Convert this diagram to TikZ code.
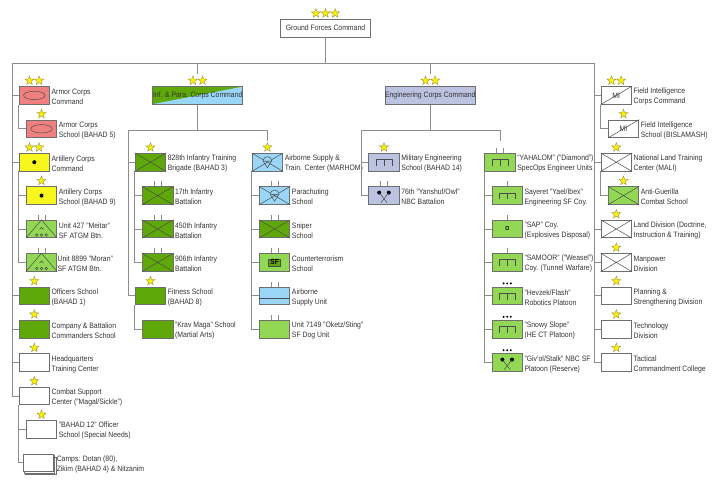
\documentclass[tikz,border=0pt]{standalone}
\usepackage{fontspec}
\setmainfont[FakeStretch=0.88]{Liberation Sans}
\usepackage{xcolor}
\usetikzlibrary{shapes.geometric}
\definecolor{linegray}{HTML}{8C8C8C}
\definecolor{boxgray}{HTML}{6E6E6E}
\definecolor{salmonfill}{HTML}{F08080}
\definecolor{yellowfill}{HTML}{F7F71E}
\definecolor{darkgreen}{HTML}{5FA80A}
\definecolor{lightgreen}{HTML}{92D855}
\definecolor{skyfill}{HTML}{99D6F7}
\definecolor{periwinkle}{HTML}{BCC3E0}
\tikzset{
 unitbox/.style={draw=boxgray, line width=.8pt, minimum width=30.5pt, minimum height=17.6pt, inner sep=0},
 widebox/.style={unitbox, minimum width=90.3pt, text=black!80, font=\fontsize{7.8}{10}\selectfont},
 lbl/.style={anchor=west, align=left, inner sep=1.5pt, yshift=-1.5pt, text=black!80, font=\fontsize{7.8}{10}\selectfont},
 rank/.style={star, star points=5, star point ratio=2.4, fill=yellow, draw=black!45!yellow, line width=.4pt, minimum size=9.5pt, inner sep=0},
 conn/.style={draw=linegray, line width=.9pt},
 sym/.style={draw=black!70, line width=.5pt},
 tick/.style={draw=linegray, line width=.7pt},
}
\newcommand{\unitnode}[5][]{
 \node[unitbox,#1] (#2) at (#3,#4) {};
 \node[lbl] (#2l) at (#2.east) {#5};
}

\begin{document}
\begin{tikzpicture}[x=1pt,y=-1pt]
\useasboundingbox (0,0) rectangle (720,493);
\coordinate (busL) at (12,63);
\coordinate (busR) at (594,63);
\coordinate (infbus) at (128.5,130);
\coordinate (engbus) at (361,130);

\node[widebox] (gfc) at (325.5,28.2) {Ground Forces Command};
\node[widebox,path picture={
 \fill[skyfill] (path picture bounding box.south west) -- (path picture bounding box.north east) -- (path picture bounding box.south east) -- cycle;
},fill=darkgreen] (infc) at (197.7,95.4) {Inf. \& Para. Corps Command};
\node[widebox,fill=periwinkle] (engc) at (430.3,95.4) {Engineering Corps Command};

% left column
\unitnode[fill=salmonfill]{armc}{34.3}{95.4}{Armor Corps\\Command}
\unitnode[fill=salmonfill]{arms}{41.5}{128.8}{Armor Corps\\School (BAHAD 5)}
\unitnode[fill=yellowfill]{artc}{34.3}{162.2}{Artillery Corps\\Command}
\unitnode[fill=yellowfill]{arts}{41.5}{195.6}{Artillery Corps\\School (BAHAD 9)}
\unitnode[fill=lightgreen]{mei}{41.5}{229}{Unit 427 "Meitar"\\SF ATGM Btn.}
\node[unitbox,fill=lightgreen] (mor) at (41.5,262.4) {};
\node[lbl,xshift=-1.3pt] (morl) at (mor.east) {Unit 8899 "Moran"\\SF ATGM Btn.};
\unitnode[fill=darkgreen]{off}{34.3}{295.8}{Officers School\\(BAHAD 1)}
\unitnode[fill=darkgreen]{com}{34.3}{329.2}{Company \& Battalion\\Commanders School}
\unitnode{hqt}{34.3}{362.6}{Headquarters\\Training Center}
\unitnode{cbt}{34.3}{396}{Combat Support\\Center ("Magal/Sickle")}
\unitnode{b12}{41.5}{429.4}{"BAHAD 12" Officer\\School (Special Needs)}
\node[unitbox,fill=white] (camc) at (41,465.8) {};
\node[unitbox,fill=white] (camb) at (39.6,464.3) {};
\node[unitbox,fill=white] (cama) at (38.2,462.8) {};
\node[lbl,xshift=1.2pt] (camal) at (cama.east) {Camps: Dotan (80),\\Zikim (BAHAD 4) \& Nitzanim};

% infantry
\unitnode[fill=darkgreen]{tr828}{150.5}{162.2}{828th Infantry Training\\Brigade (BAHAD 3)}
\unitnode[fill=darkgreen]{bn17}{157.7}{195.6}{17th Infantry\\Battalion}
\unitnode[fill=darkgreen]{bn450}{157.7}{229}{450th Infantry\\Battalion}
\unitnode[fill=darkgreen]{bn906}{157.7}{262.4}{906th Infantry\\Battalion}
\unitnode[fill=darkgreen]{fit}{150.5}{295.8}{Fitness School\\(BAHAD 8)}
\unitnode[fill=darkgreen]{krav}{157.7}{329.2}{"Krav Maga" School\\(Martial Arts)}
\unitnode[fill=skyfill]{air}{267.4}{162.2}{Airborne Supply \&\\Train. Center (MARHOM)}
\unitnode[fill=skyfill]{par}{274.6}{195.6}{Parachuting\\School}
\unitnode[fill=darkgreen]{sni}{274.6}{229}{Sniper\\School}
\unitnode[fill=lightgreen]{ctr}{274.6}{262.4}{Counterterrorism\\School}
\unitnode[fill=skyfill]{sup}{274.6}{295.8}{Airborne\\Supply Unit}
\unitnode[fill=lightgreen]{dog}{274.6}{329.2}{Unit 7149 "Oketz/Sting"\\SF Dog Unit}

% engineering
\unitnode[fill=periwinkle]{meng}{384}{162.2}{Military Engineering\\School (BAHAD 14)}
\unitnode[fill=periwinkle]{owl}{384}{195.6}{76th "Yanshuf/Owl"\\NBC Battalion}
\unitnode[fill=lightgreen]{yah}{500}{162.2}{"YAHALOM" ("Diamond")\\SpecOps Engineer Units}
\unitnode[fill=lightgreen]{yael}{507.2}{195.6}{Sayeret "Yael/Ibex"\\Engineering SF Coy.}
\unitnode[fill=lightgreen]{sap}{507.2}{229}{"SAP" Coy.\\(Explosives Disposal)}
\unitnode[fill=lightgreen]{sam}{507.2}{262.4}{"SAMOOR" ("Weasel")\\Coy. (Tunnel Warfare)}
\unitnode[fill=lightgreen]{hev}{507.2}{295.8}{"Hevzek/Flash"\\Robotics Platoon}
\unitnode[fill=lightgreen]{sno}{507.2}{329.2}{"Snowy Slope"\\(HE CT Platoon)}
\unitnode[fill=lightgreen]{giv}{507.2}{362.6}{"Giv'ol/Stalk" NBC SF\\Platoon (Reserve)}

% right column
\unitnode{fic}{616.3}{95.4}{Field Intelligence\\Corps Command}
\unitnode{fis}{623.5}{128.8}{Field Intelligence\\School (BISLAMASH)}
\unitnode{mal}{616.3}{162.2}{National Land Training\\Center (MALI)}
\unitnode[fill=lightgreen]{gue}{623.5}{195.6}{Anti-Guerilla\\Combat School}
\unitnode{lan}{616.3}{229}{Land Division (Doctrine,\\Instruction \& Training)}
\unitnode{man}{616.3}{262.4}{Manpower\\Division}
\unitnode{pla}{616.3}{295.8}{Planning \&\\Strengthening Division}
\unitnode{tec}{616.3}{329.2}{Technology\\Division}
\unitnode{tac}{616.3}{362.6}{Tactical\\Commandment College}

\draw[conn] (gfc.south) -- (gfc.south |- busL);
\draw[conn] (busL) -- (busR);
\draw[conn] (infc.north |- busL) -- ([yshift=12.3pt]infc.north);
\draw[conn] (engc.north |- busL) -- ([yshift=12.3pt]engc.north);
\draw[conn] (busL) |- (cbt.west);
\draw[conn] (busR) |- (tac.west);
\foreach \n in {armc,artc,off,com,hqt} {
 \draw[conn] (\n.west) -- (\n.west -| busL);
}
\foreach \n in {fic,mal,lan,man,pla,tec} {
 \draw[conn] (\n.west) -- (\n.west -| busR);
}
\draw[conn] (armc.south west) |- (arms.west);
\draw[conn] (artc.south west) |- (mor.west);
\draw[conn] (arts.west) -- (arts.west -| artc.south west);
\draw[conn] (mei.west) -- (mei.west -| artc.south west);
\draw[conn] (cbt.south west) |- (cama.west);
\draw[conn] (b12.west) -- (b12.west -| cbt.south west);

\draw[conn] (infc.south) -- (infc.south |- infbus);
\draw[conn] (infbus) -- (air.north |- infbus) -- ([yshift=11.6pt]air.north);
\draw[conn] (infbus) |- (fit.west);
\draw[conn] (tr828.west) -- (tr828.west -| infbus);
\draw[conn] (tr828.south west) |- (bn906.west);
\foreach \n in {bn17,bn450} {
 \draw[conn] (\n.west) -- (\n.west -| tr828.south west);
}
\draw[conn] (fit.south west) |- (krav.west);
\draw[conn] (air.south west) |- (dog.west);
\foreach \n in {par,sni,ctr,sup} {
 \draw[conn] (\n.west) -- (\n.west -| air.south west);
}

\draw[conn] (engc.south) -- (engc.south |- engbus);
\draw[conn] (engbus) -- (yah.north |- engbus) -- ([yshift=11.6pt]yah.north);
\draw[conn] (engbus) |- (owl.west);
\draw[conn] (meng.west) -- (meng.west -| engbus);
\draw[conn] (yah.south west) |- (giv.west);
\foreach \n in {yael,sap,sam,hev,sno} {
 \draw[conn] (\n.west) -- (\n.west -| yah.south west);
}

\draw[conn] (fic.south west) |- (fis.west);
\draw[conn] (mal.south west) |- (gue.west);

% ranks
\foreach \n in {gfc} {
 \node[rank] (\n s1) at ([xshift=-9.6pt,yshift=5.6pt]\n.north) {};
 \node[rank] (\n s2) at ([yshift=5.6pt]\n.north) {};
 \node[rank] (\n s3) at ([xshift=9.6pt,yshift=5.6pt]\n.north) {};
}
\foreach \n in {armc,artc,infc,engc,fic} {
 \node[rank] (\n s1) at ([xshift=-4.8pt,yshift=5.6pt]\n.north) {};
 \node[rank] (\n s2) at ([xshift=4.8pt,yshift=5.6pt]\n.north) {};
}
\foreach \n in {arms,arts,off,com,hqt,cbt,b12,tr828,fit,air,meng,fis,mal,gue,lan,man,pla,tec,tac} {
 \node[rank] (\n s1) at ([yshift=5.6pt]\n.north) {};
}

% ticks above the box
\foreach \n in {mei,mor,bn17,bn450,bn906,par,sni,ctr,sup,dog,owl,yah} {
 \draw[tick] ([xshift=-3.4pt]\n.north) -- ++(0,-5);
 \draw[tick] ([xshift=3.4pt]\n.north) -- ++(0,-5);
}
\foreach \n in {yael,sap,sam} {
 \draw[tick] (\n.north) -- ++(0,-5);
}
\foreach \n in {hev,sno,giv} {
 \foreach \d in {-3.6,0,3.6} {
  \fill[black] ([xshift=\d pt,yshift=3.2pt]\n.north) circle (1.1pt);
 }
}

% symbols
\foreach \n in {tr828,bn17,bn450,bn906,sni,air,par,mal,gue,lan,man} {
 \draw[sym] (\n.south west) -- (\n.north east) (\n.north west) -- (\n.south east);
}
\foreach \n in {armc,arms} {
 \draw[sym] (\n.center) ellipse (10.8pt and 4.2pt);
}
\foreach \n in {artc,arts} {
 \fill[black] (\n.center) circle (2pt);
}
\foreach \n in {mei,mor} {
 \draw[sym] (\n.south west) -- (\n.north) -- (\n.south east);
 \draw[sym] ([shift={(-2,0.5)}]\n.center) -- ([shift={(0,-1.5)}]\n.center) -- ([shift={(2,0.5)}]\n.center);
 \foreach \d in {-4.7,0,4.7} {
  \draw[sym] ([shift={(\d,6)}]\n.center) circle (1.3pt);
 }
}
\foreach \n in {air,par} {
 \draw[sym,fill=skyfill] ([shift={(-4.4,-1.2)}]\n.center) arc[start angle=180,end angle=0,radius=4.4pt] -- cycle;
 \draw[sym] ([shift={(-4.4,-1.2)}]\n.center) -- ([shift={(0,5.5)}]\n.center) -- ([shift={(4.4,-1.2)}]\n.center);
}
\foreach \n in {fic,fis} {
 \draw[sym] (\n.south west) -- (\n.north east);
 \node[inner sep=0, text=black!80, font=\fontsize{7.8}{8}\selectfont] (\n m) at (\n.center) {MI};
}
\foreach \n in {meng,yah,yael,sam,hev,sno} {
 \draw[sym] ([shift={(-8,3.7)}]\n.center) -- ([shift={(-8,-2.7)}]\n.center) -- ([shift={(8,-2.7)}]\n.center) -- ([shift={(8,3.7)}]\n.center);
 \draw[sym] ([shift={(0,-2.7)}]\n.center) -- ([shift={(0,3.7)}]\n.center);
}
\foreach \n in {owl,giv} {
 \fill[black] ([shift={(-4.8,-3)}]\n.center) circle (2pt);
 \fill[black] ([shift={(4.8,-3)}]\n.center) circle (2pt);
 \draw[sym] ([shift={(-4.8,-3)}]\n.center) -- ([shift={(3,7)}]\n.center);
 \draw[sym] ([shift={(4.8,-3)}]\n.center) -- ([shift={(-3,7)}]\n.center);
}
\node[fill=darkgreen, draw=black!70, line width=.3pt, inner sep=0, minimum width=12pt, minimum height=7.5pt, font=\fontsize{7.5}{8}\selectfont\bfseries] (ctrs) at (ctr.center) {SF};
\draw[sym] (sup.west |- 0,298.6) -- (sup.east |- 0,298.6);
\node[inner sep=0, font=\fontsize{9}{9}\selectfont] (sapx) at (sap.center) {¤};
\end{tikzpicture}
\end{document}
